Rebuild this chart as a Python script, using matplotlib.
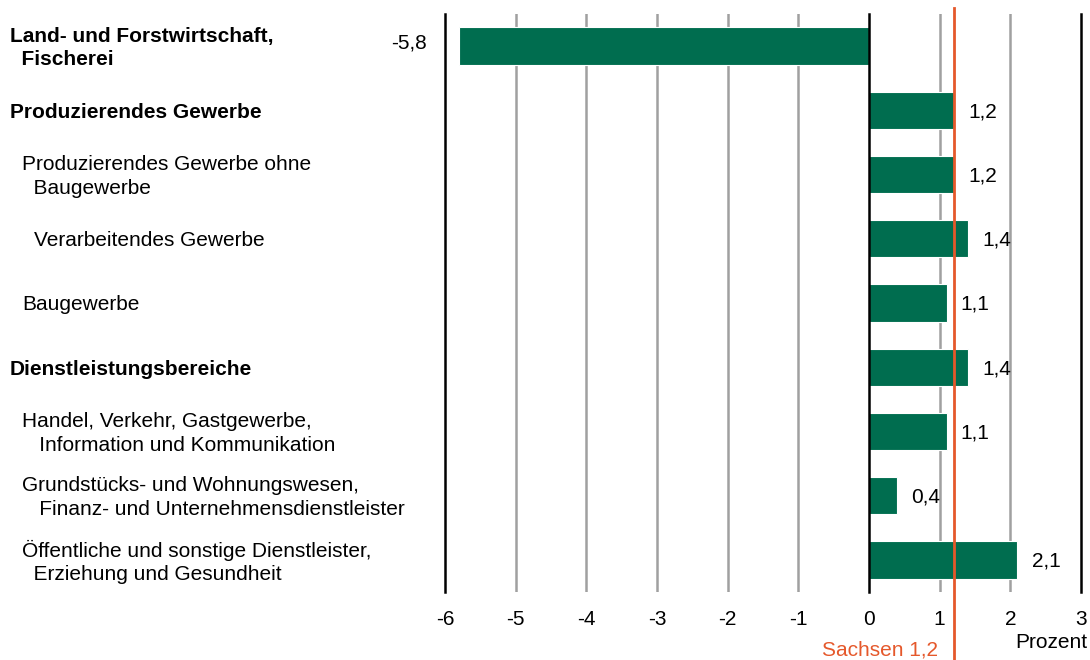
import matplotlib.pyplot as plt
import matplotlib.transforms as mtransforms

plt.rcParams['font.family'] = ['Liberation Sans', 'DejaVu Sans']

# data
categories = [
    "Land- und Forstwirtschaft,\n  Fischerei",
    "Produzierendes Gewerbe",
    "Produzierendes Gewerbe ohne\n  Baugewerbe",
    "Verarbeitendes Gewerbe",
    "Baugewerbe",
    "Dienstleistungsbereiche",
    "Handel, Verkehr, Gastgewerbe,\n   Information und Kommunikation",
    "Grundstücks- und Wohnungswesen,\n   Finanz- und Unternehmensdienstleister",
    "Öffentliche und sonstige Dienstleister,\n  Erziehung und Gesundheit",
]
values = [-5.8, 1.2, 1.2, 1.4, 1.1, 1.4, 1.1, 0.4, 2.1]
value_labels = ["-5,8", "1,2", "1,2", "1,4", "1,1", "1,4", "1,1", "0,4", "2,1"]
bold = [True, True, False, False, False, True, False, False, False]
indent = [0, 0, 1, 2, 1, 0, 1, 1, 1]
sachsen = 1.2
sachsen_label = "Sachsen 1,2"
xticks = [-6, -5, -4, -3, -2, -1, 0, 1, 2, 3]

green = "#006d4f"
orange = "#e5582b"
fs = 15

fig = plt.figure(figsize=(10.9, 6.6), dpi=100)
ax = fig.add_axes([445 / 1090, 1 - 592 / 660, (1081 - 445) / 1090, (592 - 14) / 660])

ypos = list(range(len(values)))
ax.set_xlim(-6, 3)
ax.set_ylim(len(values) - 0.5, -0.5)

# grid lines
for x in xticks:
    if x in (-6, 0, 3):
        ax.axvline(x, color="black", lw=1.8, zorder=2.5, clip_on=False)
    else:
        ax.axvline(x, color="#a0a0a0", lw=1.8, zorder=1)

ax.barh(ypos, values, height=0.58, color=green, edgecolor="white",
        linewidth=0.8, zorder=2)

ax.axvline(sachsen, ymin=-0.118, ymax=1.011, color=orange, lw=2,
           clip_on=False, zorder=3)

# value labels
for y, v, lab in zip(ypos, values, value_labels):
    if v < 0:
        ax.text(v - 0.45, y - 0.05, lab, ha="right", va="center", fontsize=fs)
    else:
        ax.text(v + 0.2, y + 0.02, lab, ha="left", va="center", fontsize=fs)

# category labels
trans = mtransforms.blended_transform_factory(fig.transFigure, ax.transData)
for y, cat, b, ind in zip(ypos, categories, bold, indent):
    ax.text((10 + 12 * ind) / 1090, y + 0.03, cat, transform=trans,
            ha="left", va="center", fontsize=fs,
            fontweight="bold" if b else "normal", linespacing=1.3)

ax.set_xticks(xticks)
ax.set_xticklabels([str(t) for t in xticks], fontsize=fs)
ax.tick_params(axis="x", length=0, pad=13)
ax.set_yticks([])
for s in ax.spines.values():
    s.set_visible(False)

fig.text(938 / 1090, 1 - 650 / 660, sachsen_label, color=orange, fontsize=fs,
         ha="right", va="center")
fig.text(1087 / 1090, 1 - 643 / 660, "Prozent", fontsize=fs,
         ha="right", va="center")

fig.savefig("out.png", dpi=100, facecolor="white")
